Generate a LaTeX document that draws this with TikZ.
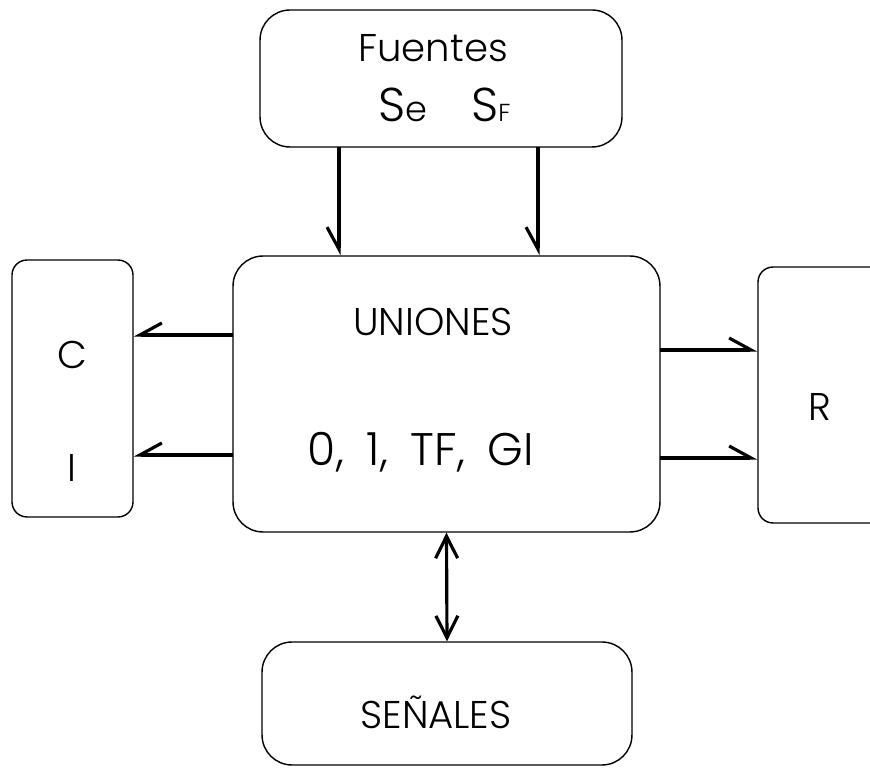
\documentclass[tikz,border=0pt]{standalone}
\usepackage{fontspec}
\setmainfont{Poppins}[UprightFont=* Light]
\usetikzlibrary{arrows.meta}

\tikzset{
  caja/.style={draw, line width=0.8pt, rounded corners=6mm, inner sep=0pt},
  cajita/.style={draw, line width=0.8pt, rounded corners=3mm, inner sep=0pt},
  texto/.style={inner sep=0pt, font=\fontsize{22}{26}\selectfont},
  flecha/.style={line width=1.8pt},
  medder/.style={flecha, -{Straight Barb[right, length=4.4mm, width=4.8mm]}},
  medizq/.style={flecha, -{Straight Barb[left, length=4.4mm, width=4.8mm]}},
  doble/.style={flecha, {Straight Barb[length=4.4mm, width=4.4mm]}-{Straight Barb[length=4.4mm, width=4.4mm]}},
}

\begin{document}
\begin{tikzpicture}[x=0.02cm, y=-0.02cm]
  \useasboundingbox (0,0) rectangle (870,776);

  % bloques
  \node[caja, minimum width=7.24cm, minimum height=2.74cm] (fuentes) at (441, 78.5) {};
  \node[caja, minimum width=8.54cm, minimum height=5.52cm] (uniones) at (446.5, 394) {};
  \node[cajita, minimum width=2.42cm, minimum height=5.14cm] (ci) at (72.5, 388.5) {};
  \node[cajita, minimum width=2.84cm, minimum height=5.12cm] (r) at (829, 395) {};
  \node[caja, minimum width=7.4cm, minimum height=2.46cm] (senales) at (447, 703.5) {};

  % textos
  \node[texto] (tfuentes) at (433, 48) {Fuentes};
  \node[texto, anchor=base west, font=\fontsize{27}{30}\selectfont] (se) at (378, 122) {S{\fontsize{20}{20}\selectfont e}};
  \node[texto, anchor=base west, font=\fontsize{27}{30}\selectfont] (sf) at (471, 122) {S{\fontsize{14}{14}\selectfont F}};
  \node[texto] (tuniones) at (433, 322) {UNIONES};
  \node[texto, font=\fontsize{26}{30}\selectfont] (tvalores) at (421, 452) {0,\hspace{0.5em}1,\hspace{0.5em}TF,\hspace{0.5em}GI};
  \node[texto] (tc) at (72, 355) {C};
  \node[texto] (ti) at (72, 468) {I};
  \node[texto] (tr) at (820, 407) {R};
  \node[texto] (tsenales) at (436, 712) {SEÑALES};

  % puntos de salida
  \coordinate (f1) at (339, 147);
  \coordinate (f2) at (538, 147);
  \coordinate (u1) at (233, 335);
  \coordinate (u2) at (233, 455);
  \coordinate (u3) at (660, 350);
  \coordinate (u4) at (660, 458);

  % conexiones
  \draw[medder] (f1) -- (f1 |- uniones.north);
  \draw[medder] (f2) -- (f2 |- uniones.north);
  \draw[medder] (u1) -- (u1 -| ci.east);
  \draw[medder] (u2) -- (u2 -| ci.east);
  \draw[medizq] (u3) -- (u3 -| r.west);
  \draw[medizq] (u4) -- (u4 -| r.west);
  \draw[doble] (uniones.south) -- (senales.north);
\end{tikzpicture}
\end{document}
